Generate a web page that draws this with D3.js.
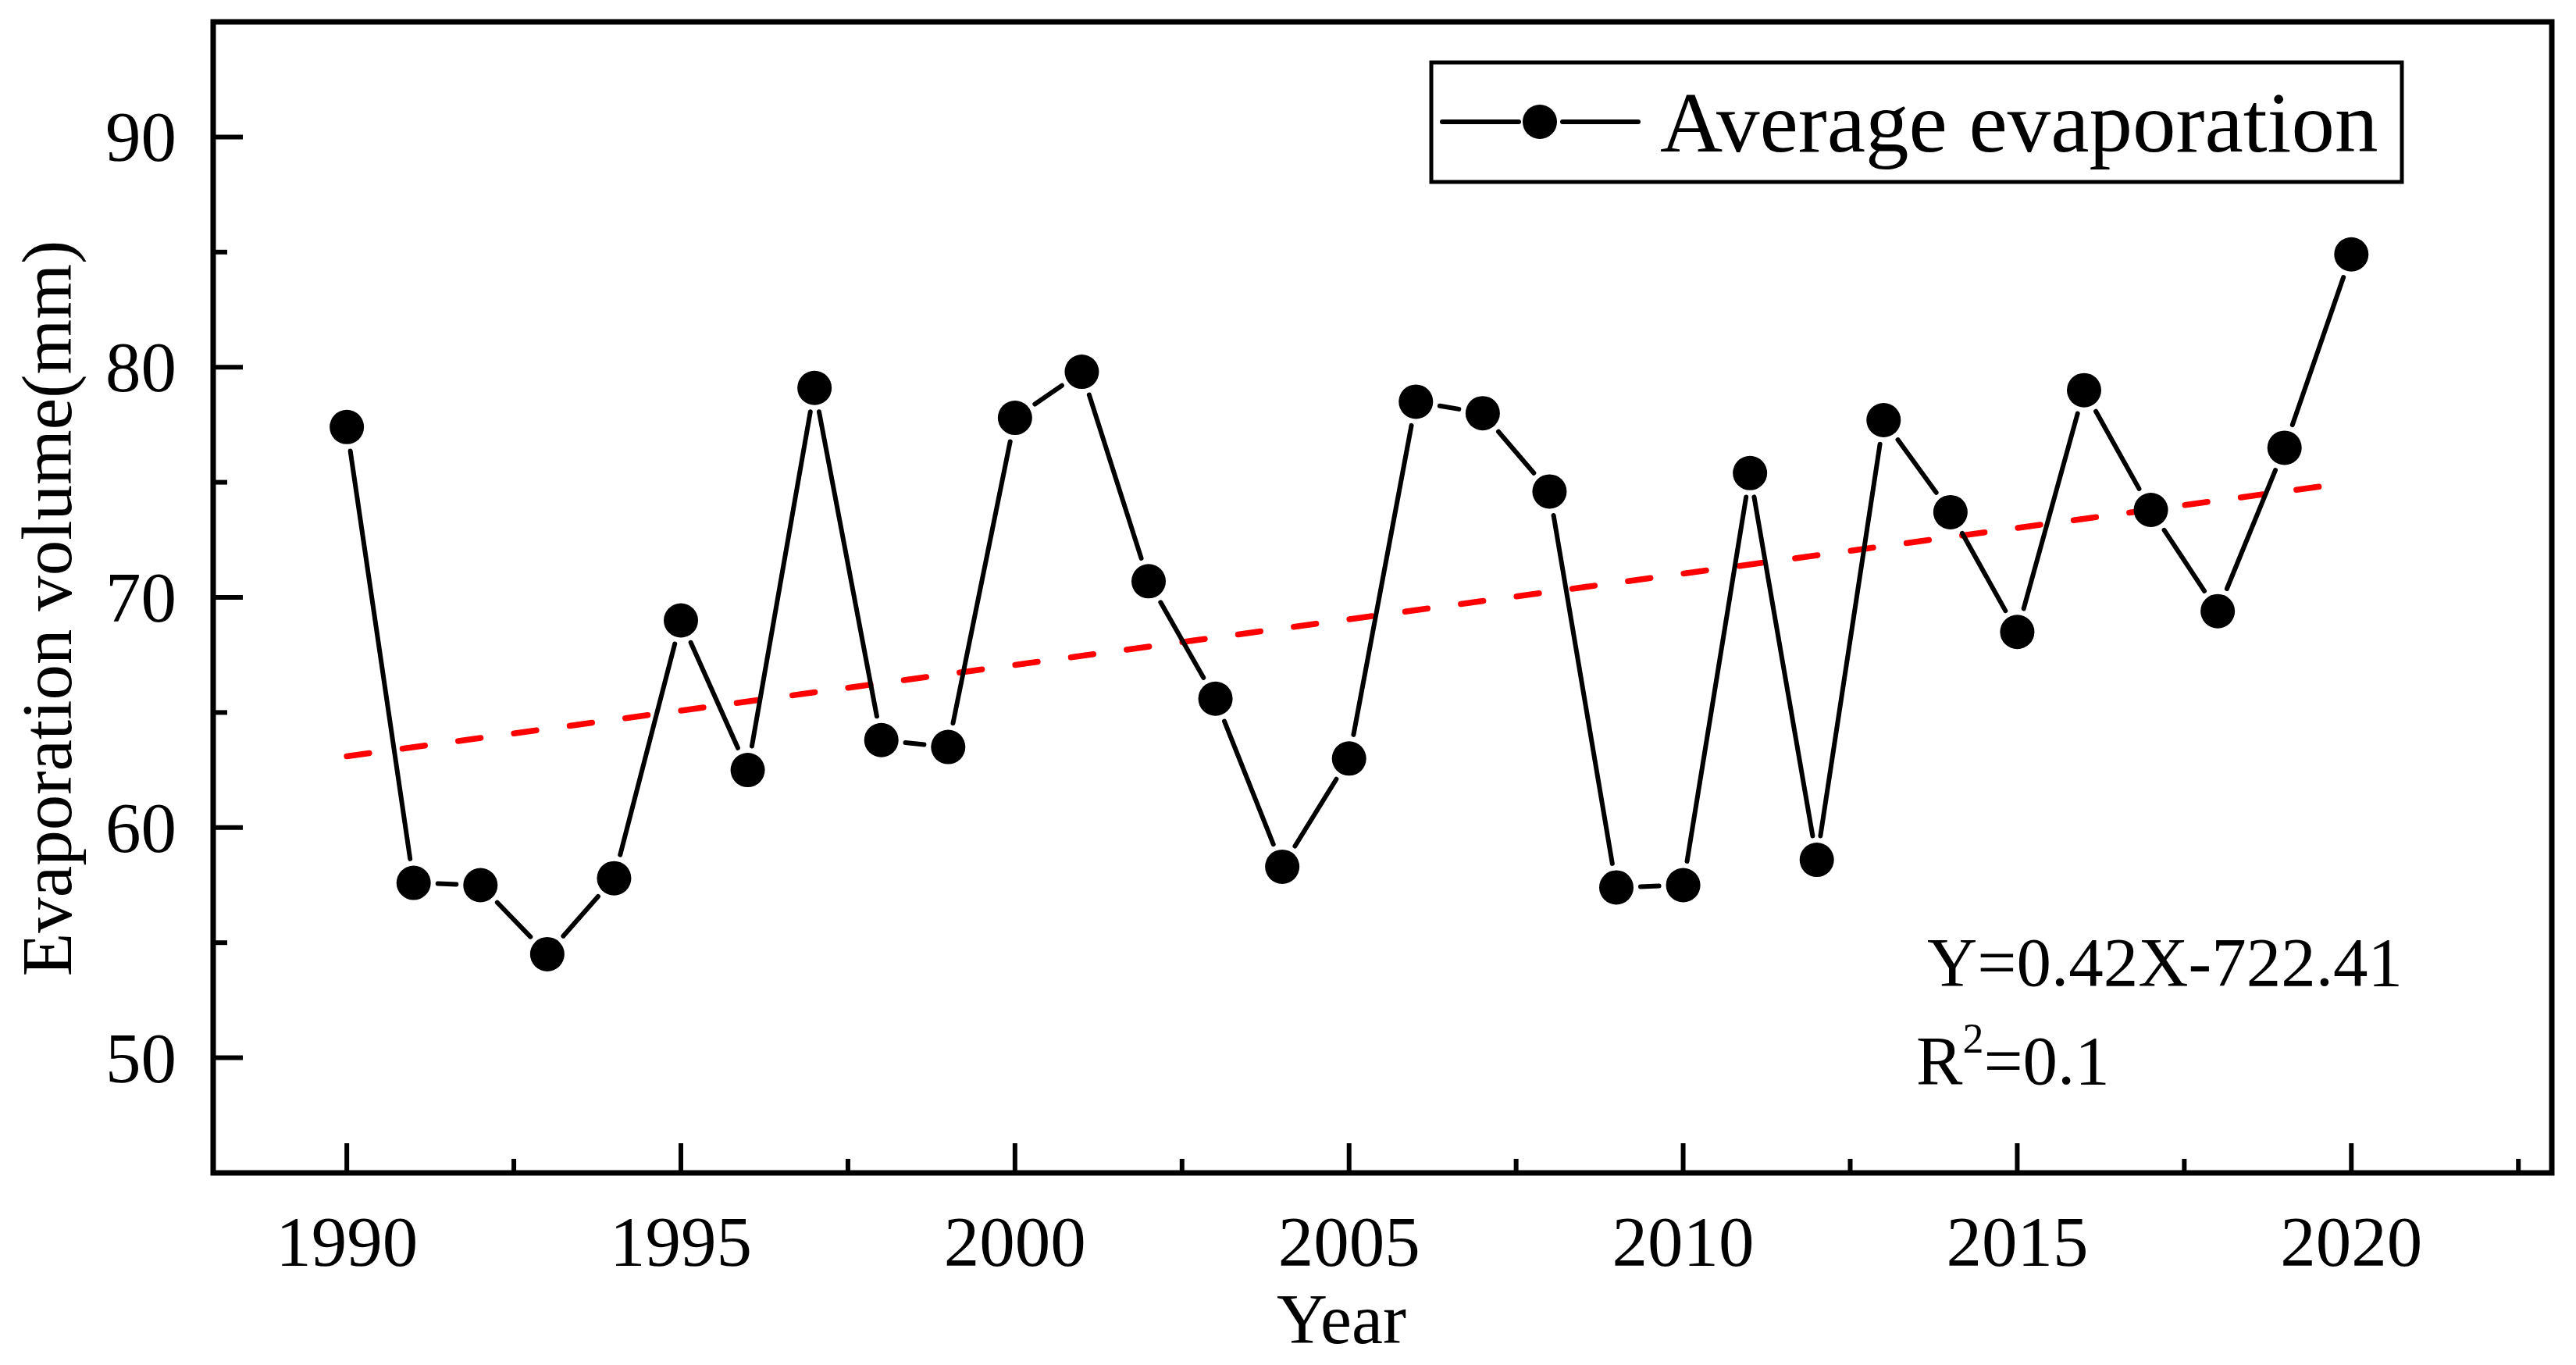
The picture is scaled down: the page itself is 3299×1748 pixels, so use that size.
<!DOCTYPE html>
<html>
<head>
<meta charset="utf-8">
<script src="https://d3js.org/d3.v7.min.js"></script>
<style>
  html, body { margin: 0; padding: 0; background: #fff; }
  svg { display: block; font-family: "Liberation Serif", "Times New Roman", serif; }
</style>
</head>
<body>
<svg id="chart" width="3299" height="1748"></svg>
<script>
// ---- data ----
const years = [1990,1991,1992,1993,1994,1995,1996,1997,1998,1999,2000,2001,2002,2003,2004,2005,2006,2007,2008,2009,2010,2011,2012,2013,2014,2015,2016,2017,2018,2019,2020];
const evaporation = [77.4,57.6,57.5,54.5,57.8,69.0,62.5,79.1,63.8,63.5,77.8,79.8,70.7,65.6,58.3,63.0,78.5,78.0,74.6,57.4,57.5,75.4,58.6,77.7,73.7,68.5,79.0,73.8,69.4,76.5,84.9];
const trendYears = [1990, 2020];
const trendValues = [63.1, 75.0];
const xMajorTicks = [1990,1995,2000,2005,2010,2015,2020];
const xMinorTicks = [1992.5,1997.5,2002.5,2007.5,2012.5,2017.5,2022.5];
const yMajorTicks = [50,60,70,80,90];
const yMinorTicks = [55,65,75,85];
const seriesName = "Average evaporation";
const equationText = "Y=0.42X-722.41";
const xTitle = "Year";
const yTitle = "Evaporation volume(mm)";

// ---- layout ----
const svg = d3.select("#chart");
const L = 273, T = 28, R = 3268, B = 1502;
const x = d3.scaleLinear().domain([1988, 2023]).range([L, R]);
const y = d3.scaleLinear().domain([45, 95]).range([B, T]);

svg.append("rect").attr("width", 3299).attr("height", 1748).attr("fill", "#fff");

// ticks
const g = svg.append("g");
function tickLines(vals, len, isX) {
  g.selectAll(null).data(vals).enter().append("line")
    .attr("x1", d => isX ? x(d) : L)
    .attr("x2", d => isX ? x(d) : L + len)
    .attr("y1", d => isX ? B : y(d))
    .attr("y2", d => isX ? B - len : y(d))
    .attr("stroke", "#000").attr("stroke-width", 6);
}
tickLines(xMajorTicks, 38, true);
tickLines(xMinorTicks, 18, true);
tickLines(yMajorTicks, 38, false);
tickLines(yMinorTicks, 18, false);

// tick labels
g.selectAll(null).data(xMajorTicks).enter().append("text")
  .attr("x", d => x(d)).attr("y", 1621)
  .attr("text-anchor", "middle").attr("font-size", 91).text(d => d);
g.selectAll(null).data(yMajorTicks).enter().append("text")
  .attr("x", 226).attr("y", d => y(d)).attr("dy", "0.34em")
  .attr("text-anchor", "end").attr("font-size", 91).text(d => d);

// axis titles
svg.append("text").attr("x", 1718).attr("y", 1720)
  .attr("text-anchor", "middle").attr("font-size", 90).text(xTitle);
svg.append("text").attr("transform", "translate(91,779) rotate(-90)")
  .attr("text-anchor", "middle").attr("font-size", 91).text(yTitle);

// trend line
svg.append("line")
  .attr("x1", x(trendYears[0])).attr("y1", y(trendValues[0]))
  .attr("x2", x(trendYears[1])).attr("y2", y(trendValues[1]))
  .attr("stroke", "#ff0000").attr("stroke-width", 7.5)
  .attr("stroke-dasharray", "29 43").attr("stroke-linecap", "round");

// series line with gaps around markers
const pts = years.map((yr, i) => [x(yr), y(evaporation[i])]);
const gap = 31;
const segs = [];
for (let i = 0; i < pts.length - 1; i++) {
  const [x0, y0] = pts[i], [x1, y1] = pts[i + 1];
  const dx = x1 - x0, dy = y1 - y0, len = Math.hypot(dx, dy);
  if (len > 2 * gap) {
    const ux = dx / len, uy = dy / len;
    segs.push([x0 + ux * gap, y0 + uy * gap, x1 - ux * gap, y1 - uy * gap]);
  }
}
svg.append("g").selectAll("line").data(segs).enter().append("line")
  .attr("x1", d => d[0]).attr("y1", d => d[1]).attr("x2", d => d[2]).attr("y2", d => d[3])
  .attr("stroke", "#000").attr("stroke-width", 6).attr("stroke-linecap", "round");

svg.append("g").selectAll("circle").data(pts).enter().append("circle")
  .attr("cx", d => d[0]).attr("cy", d => d[1]).attr("r", 22).attr("fill", "#000");

// frame
svg.append("rect").attr("x", L).attr("y", T).attr("width", R - L).attr("height", B - T)
  .attr("fill", "none").attr("stroke", "#000").attr("stroke-width", 7);

// legend
const lg = svg.append("g");
lg.append("rect").attr("x", 1833).attr("y", 80).attr("width", 1243).attr("height", 153)
  .attr("fill", "#fff").attr("stroke", "#000").attr("stroke-width", 5);
lg.append("line").attr("x1", 1847).attr("x2", 1945).attr("y1", 156).attr("y2", 156)
  .attr("stroke", "#000").attr("stroke-width", 6).attr("stroke-linecap", "round");
lg.append("line").attr("x1", 2001).attr("x2", 2098).attr("y1", 156).attr("y2", 156)
  .attr("stroke", "#000").attr("stroke-width", 6).attr("stroke-linecap", "round");
lg.append("circle").attr("cx", 1972).attr("cy", 156).attr("r", 22).attr("fill", "#000");
lg.append("text").attr("x", 2126).attr("y", 194).attr("font-size", 111).text(seriesName);

// equation
svg.append("text").attr("x", 2468).attr("y", 1262).attr("font-size", 89).text(equationText);
const r2 = svg.append("text").attr("x", 2454).attr("y", 1388).attr("font-size", 89);
r2.append("tspan").text("R");
r2.append("tspan").attr("dy", -40).attr("font-size", 54).text("2");
r2.append("tspan").attr("dy", 40).text("=0.1");
</script>
</body>
</html>
